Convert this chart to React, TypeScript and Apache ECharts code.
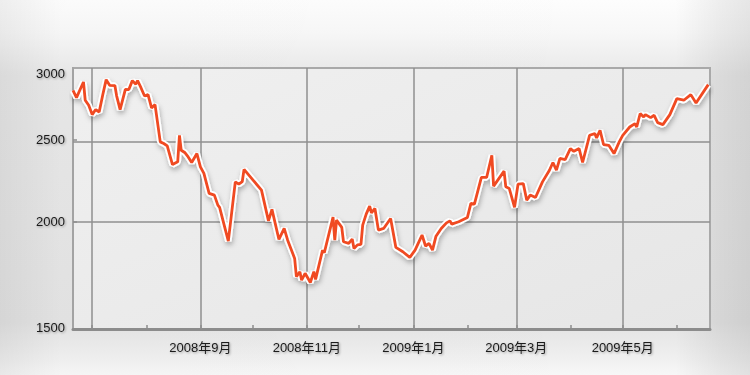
import React, { useEffect, useRef } from 'react';
import * as echarts from 'echarts';

// ---- data ----
const DATES: string[] = [
  '2008-06-20', '2008-06-22', '2008-06-26', '2008-06-27', '2008-06-29', '2008-07-01', '2008-07-03', '2008-07-05', '2008-07-07', '2008-07-09',
  '2008-07-11', '2008-07-14', '2008-07-15', '2008-07-17', '2008-07-20', '2008-07-22', '2008-07-24', '2008-07-26', '2008-07-27', '2008-07-29',
  '2008-07-31', '2008-08-02', '2008-08-04', '2008-08-06', '2008-08-09', '2008-08-11', '2008-08-13', '2008-08-16', '2008-08-19', '2008-08-20',
  '2008-08-21', '2008-08-23', '2008-08-25', '2008-08-27', '2008-08-30', '2008-09-01', '2008-09-03', '2008-09-06', '2008-09-09', '2008-09-11',
  '2008-09-12', '2008-09-17', '2008-09-21', '2008-09-23', '2008-09-25', '2008-09-26', '2008-10-06', '2008-10-10', '2008-10-12', '2008-10-16',
  '2008-10-19', '2008-10-21', '2008-10-25', '2008-10-26', '2008-10-28', '2008-10-29', '2008-10-31', '2008-11-03', '2008-11-05', '2008-11-06',
  '2008-11-10', '2008-11-11', '2008-11-16', '2008-11-17', '2008-11-18', '2008-11-21', '2008-11-22', '2008-11-25', '2008-11-27', '2008-11-28',
  '2008-11-30', '2008-12-02', '2008-12-03', '2008-12-05', '2008-12-07', '2008-12-08', '2008-12-10', '2008-12-12', '2008-12-15', '2008-12-19',
  '2008-12-22', '2008-12-26', '2008-12-30', '2009-01-02', '2009-01-06', '2009-01-08', '2009-01-10', '2009-01-12', '2009-01-14', '2009-01-17',
  '2009-01-20', '2009-01-22', '2009-01-23', '2009-01-27', '2009-02-01', '2009-02-03', '2009-02-05', '2009-02-09', '2009-02-12', '2009-02-15',
  '2009-02-16', '2009-02-22', '2009-02-23', '2009-02-25', '2009-02-28', '2009-03-02', '2009-03-05', '2009-03-07', '2009-03-09', '2009-03-12',
  '2009-03-16', '2009-03-20', '2009-03-22', '2009-03-24', '2009-03-26', '2009-03-29', '2009-04-01', '2009-04-03', '2009-04-06', '2009-04-08',
  '2009-04-12', '2009-04-15', '2009-04-16', '2009-04-18', '2009-04-20', '2009-04-23', '2009-04-26', '2009-04-29', '2009-05-01', '2009-05-05',
  '2009-05-08', '2009-05-09', '2009-05-11', '2009-05-13', '2009-05-14', '2009-05-17', '2009-05-19', '2009-05-21', '2009-05-24', '2009-05-28',
  '2009-06-01', '2009-06-05', '2009-06-09', '2009-06-12', '2009-06-19',
];

const VALUES: number[] = [
  2862, 2806, 2928, 2786, 2748, 2679, 2716, 2698, 2824, 2947,
  2902, 2900, 2820, 2715, 2870, 2868, 2939, 2910, 2940, 2881,
  2818, 2829, 2728, 2753, 2487, 2476, 2460, 2338, 2355, 2532,
  2431, 2416, 2387, 2351, 2409, 2323, 2282, 2161, 2151, 2093,
  2080, 1897, 2230, 2216, 2232, 2307, 2180, 2005, 2069, 1906,
  1964, 1902, 1810, 1722, 1745, 1706, 1738, 1695, 1746, 1709,
  1851, 1838, 2026, 1902, 2009, 1970, 1894, 1886, 1908, 1860,
  1878, 1880, 1982, 2042, 2087, 2049, 2074, 1955, 1964, 2018,
  1865, 1843, 1815, 1851, 1929, 1872, 1886, 1851, 1923, 1964,
  1994, 2005, 1987, 2000, 2024, 2103, 2099, 2257, 2257, 2398,
  2204, 2296, 2200, 2190, 2080, 2216, 2220, 2121, 2151, 2137,
  2230, 2302, 2351, 2302, 2377, 2370, 2442, 2424, 2442, 2351,
  2532, 2544, 2514, 2567, 2469, 2464, 2409, 2487, 2532, 2590,
  2614, 2590, 2687, 2662, 2679, 2657, 2674, 2621, 2607, 2679,
  2798, 2786, 2829, 2765, 2907,
];

const Y_LABELS: number[] = [1500, 2000, 2500, 3000];
const Y_GRID: number[] = [2000, 2500];
const Y_MIN = 1493;
const Y_MAX = 3042;

const X_MIN = '2008-06-20';
const X_MAX = '2009-06-20';
const X_MONTH_TICKS: string[] = [
  '2008-07-01', '2008-08-01', '2008-09-01', '2008-10-01', '2008-11-01', '2008-12-01',
  '2009-01-01', '2009-02-01', '2009-03-01', '2009-04-01', '2009-05-01', '2009-06-01',
];
const X_LABELS: string[] = ['2008-09-01', '2008-11-01', '2009-01-01', '2009-03-01', '2009-05-01'];
const X_GRID: string[] = ['2008-07-01', '2008-09-01', '2008-11-01', '2009-01-01', '2009-03-01', '2009-05-01'];

// ---- helpers ----
const ts = (s: string): number => {
  const [y, m, d] = s.split('-').map(Number);
  return new Date(y, m - 1, d).getTime();
};

const FONT = "'Liberation Sans', Arial, 'Noto Sans CJK JP', sans-serif";

const labelStyle = {
  color: '#1a1a1a',
  fontSize: 13,
  fontFamily: FONT,
  textShadowColor: 'rgba(0,0,0,0.35)',
  textShadowBlur: 2,
  textShadowOffsetX: 1,
  textShadowOffsetY: 1,
};

export default function App() {
  const ref = useRef<HTMLDivElement>(null);

  useEffect(() => {
    if (!ref.current) return;
    const chart = echarts.init(ref.current, null, { renderer: 'svg' });

    const seriesData = DATES.map((d, i) => [ts(d), Math.log(VALUES[i])]);

    const gridLineStyle = { color: '#8f8f8f', width: 1.5, type: 'solid' as const };

    const option: any = {
      animation: false,
      backgroundColor: {
        type: 'linear',
        x: 0, y: 0, x2: 0, y2: 1,
        colorStops: [
          { offset: 0, color: '#fdfdfd' },
          { offset: 0.09, color: '#f7f7f7' },
          { offset: 0.2, color: '#e8e8e8' },
          { offset: 0.86, color: '#e3e3e3' },
          { offset: 0.95, color: '#efefef' },
          { offset: 1, color: '#f7f7f7' },
        ],
      },
      graphic: [
        {
          type: 'rect',
          z: -100,
          silent: true,
          shape: { x: 0, y: 0, width: 750, height: 375 },
          style: {
            fill: {
              type: 'linear',
              x: 0, y: 0, x2: 1, y2: 0,
              colorStops: [
                { offset: 0, color: 'rgba(0,0,0,0.06)' },
                { offset: 0.08, color: 'rgba(0,0,0,0.01)' },
                { offset: 0.9, color: 'rgba(0,0,0,0)' },
                { offset: 0.96, color: 'rgba(0,0,0,0.06)' },
                { offset: 1, color: 'rgba(0,0,0,0.09)' },
              ],
            },
          },
        },
      ],
      grid: {
        left: 73,
        right: 40,
        top: 68,
        bottom: 46,
        show: true,
        backgroundColor: {
          type: 'linear',
          x: 0, y: 0, x2: 1, y2: 1,
          colorStops: [
            { offset: 0, color: '#f0f0f0' },
            { offset: 1, color: '#e6e6e6' },
          ],
        },
        borderColor: '#a9a9a9',
        borderWidth: 2,
      },
      xAxis: {
        type: 'value',
        min: ts(X_MIN),
        max: ts(X_MAX),
        axisLine: { show: true, lineStyle: { color: '#8c8c8c', width: 3 } },
        axisTick: {
          show: true,
          inside: true,
          length: 4,
          customValues: X_MONTH_TICKS.map(ts),
          lineStyle: { color: '#8c8c8c', width: 1.5 },
        },
        splitLine: { show: false },
        axisLabel: {
          ...labelStyle,
          margin: 12,
          customValues: X_LABELS.map(ts),
          formatter: (v: number) => {
            const d = new Date(v);
            return `${d.getFullYear()}年${d.getMonth() + 1}月`;
          },
        },
      },
      yAxis: {
        type: 'value',
        min: Math.log(Y_MIN),
        max: Math.log(Y_MAX),
        axisLine: { show: true, lineStyle: { color: '#a3a3a3', width: 2 } },
        axisTick: {
          show: true,
          inside: true,
          length: 4,
          customValues: Y_GRID.map(Math.log),
          lineStyle: { color: '#8f8f8f', width: 1.5 },
        },
        splitLine: { show: false },
        axisLabel: {
          ...labelStyle,
          margin: 8,
          customValues: Y_LABELS.map(Math.log),
          formatter: (v: number) => String(Math.round(Math.exp(v))),
        },
      },
      series: [
        {
          type: 'line',
          name: 'grid',
          data: [],
          z: 1,
          silent: true,
          markLine: {
            z: 1,
            silent: true,
            symbol: 'none',
            label: { show: false },
            lineStyle: gridLineStyle,
            emphasis: { disabled: true },
            data: [
              ...X_GRID.map((d) => ({ xAxis: ts(d) })),
              ...Y_GRID.map((v) => ({ yAxis: Math.log(v) })),
            ],
          },
        },
        {
          type: 'line',
          name: 'halo',
          data: seriesData,
          z: 2,
          silent: true,
          showSymbol: false,
          symbol: 'none',
          lineStyle: {
            color: '#ffffff',
            width: 6.5,
            shadowColor: 'rgba(0,0,0,0.28)',
            shadowBlur: 5,
            shadowOffsetX: 1,
            shadowOffsetY: 3,
          },
        },
        {
          type: 'line',
          name: 'index',
          data: seriesData,
          z: 3,
          silent: true,
          showSymbol: false,
          symbol: 'none',
          lineStyle: { color: '#f04a22', width: 2.8 },
        },
      ],
    };

    chart.setOption(option);
    return () => chart.dispose();
  }, []);

  return (
    <div
      ref={ref}
      style={{ position: 'fixed', left: 0, top: 0, width: 750, height: 375 }}
    />
  );
}
